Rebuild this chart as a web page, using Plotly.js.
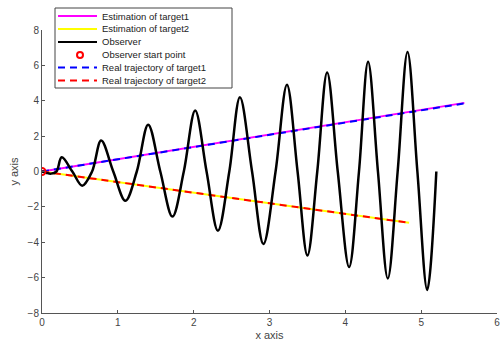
<!DOCTYPE html>
<html><head><meta charset="utf-8">
<script src="https://cdn.plot.ly/plotly-3.0.1.min.js"></script>
<style>html,body{margin:0;padding:0;background:#fff}#c{width:501px;height:347px}</style>
</head><body><div id="c"></div>
<script>
// Observer trajectory
const obsX = [0, 0.06, 0.12, 0.19, 0.26, 0.40, 0.53, 0.66, 0.78, 0.94, 1.10, 1.25, 1.40, 1.56, 1.72, 1.87, 2.02, 2.17, 2.32, 2.47, 2.61, 2.77, 2.92, 3.08, 3.23, 3.37, 3.50, 3.63, 3.76, 3.90, 4.05, 4.18, 4.30, 4.43, 4.56, 4.69, 4.82, 4.95, 5.08, 5.20];
const obsY = [0, -0.08, -0.12, 0, 0.8, 0, -0.8, 0, 1.75, 0, -1.65, 0, 2.65, 0, -2.55, 0, 3.45, 0, -3.35, 0, 4.2, 0, -4.1, 0, 4.9, 0, -4.75, 0, 5.6, 0, -5.4, 0, 6.2, 0, -6.05, 0, 6.75, 0, -6.7, 0];
// Targets
const est1X = [0, 5.57], est1Y = [0, 3.88];
const real1X = [0, 5.57], real1Y = [0, 3.85];
const est2X = [0, 4.84], est2Y = [0, -2.9];
const real2X = [0, 4.84], real2Y = [0, -2.9];
const startX = [0], startY = [0];
const names = ['Estimation of target1','Estimation of target2','Observer','Observer start point','Real trajectory of target1','Real trajectory of target2'];
const colors = ['#ff00ff','#ffff00','#000000','#ff0000','#0000ff','#ff0000'];
const dashes = ['solid','solid','solid',null,'7px,5px','7px,5px'];

const traces = [
 {x: est1X, y: est1Y, mode:'lines', name: names[0], line:{color:colors[0], width:2}},
 {x: est2X, y: est2Y, mode:'lines', name: names[1], line:{color:colors[1], width:2}},
 {x: real1X, y: real1Y, mode:'lines', name: names[4], line:{color:colors[4], width:2, dash:dashes[4]}},
 {x: real2X, y: real2Y, mode:'lines', name: names[5], line:{color:colors[5], width:2, dash:dashes[5]}},
 {x: obsX, y: obsY, mode:'lines', name: names[2], line:{color:colors[2], width:2.5, shape:'spline', smoothing:1}},
 {x: startX, y: startY, mode:'markers', name: names[3], marker:{symbol:'circle-open', color:colors[3], size:7, line:{width:2}}}
];

// Compact legend (MATLAB-style) built in paper coordinates
const L = 42, T = 30, W = 455, H = 283;
const px = v => (v - L) / W;
const py = v => (T + H - v) / H;
const shapes = [{type:'rect', xref:'paper', yref:'paper', x0:px(55), x1:px(232), y0:py(8), y1:py(88), line:{color:'#444', width:1}, fillcolor:'#fff', layer:'above'}];
const annotations = [];
const rowY = [16, 29, 42, 55, 67.5, 80.5];
names.forEach((n, i) => {
  if (dashes[i]) {
    shapes.push({type:'line', xref:'paper', yref:'paper', x0:px(58), x1:px(97), y0:py(rowY[i]), y1:py(rowY[i]), line:{color:colors[i], width:2, dash:dashes[i]}, layer:'above'});
  } else {
    shapes.push({type:'circle', xref:'paper', yref:'paper', x0:px(77), x1:px(83), y0:py(rowY[i]+3), y1:py(rowY[i]-3), line:{color:colors[i], width:2}, layer:'above'});
  }
  annotations.push({xref:'paper', yref:'paper', x:px(100), y:py(rowY[i]), xanchor:'left', yanchor:'middle', text:n, showarrow:false, font:{family:'Liberation Sans, Arial', size:9.5, color:'#222'}});
});

const axisCommon = {showgrid:false, zeroline:false, showline:true, linecolor:'#555', linewidth:1, ticks:'inside', ticklen:3, tickcolor:'#555', tickfont:{family:'Liberation Sans, Arial', size:10, color:'#444'}, mirror:false};
const layout = {
 width:501, height:347, margin:{l:L, r:4, t:T, b:34}, paper_bgcolor:'#fff', plot_bgcolor:'#fff',
 showlegend:false, shapes: shapes, annotations: annotations,
 xaxis: Object.assign({}, axisCommon, {range:[0,6], dtick:1, title:{text:'x axis', font:{family:'Liberation Sans, Arial', size:11, color:'#444'}, standoff:4}}),
 yaxis: Object.assign({}, axisCommon, {range:[-8,8], dtick:2, title:{text:'y axis', font:{family:'Liberation Sans, Arial', size:11, color:'#444'}, standoff:6}})
};
Plotly.newPlot('c', traces, layout, {displayModeBar:false, staticPlot:true});
</script></body></html>
